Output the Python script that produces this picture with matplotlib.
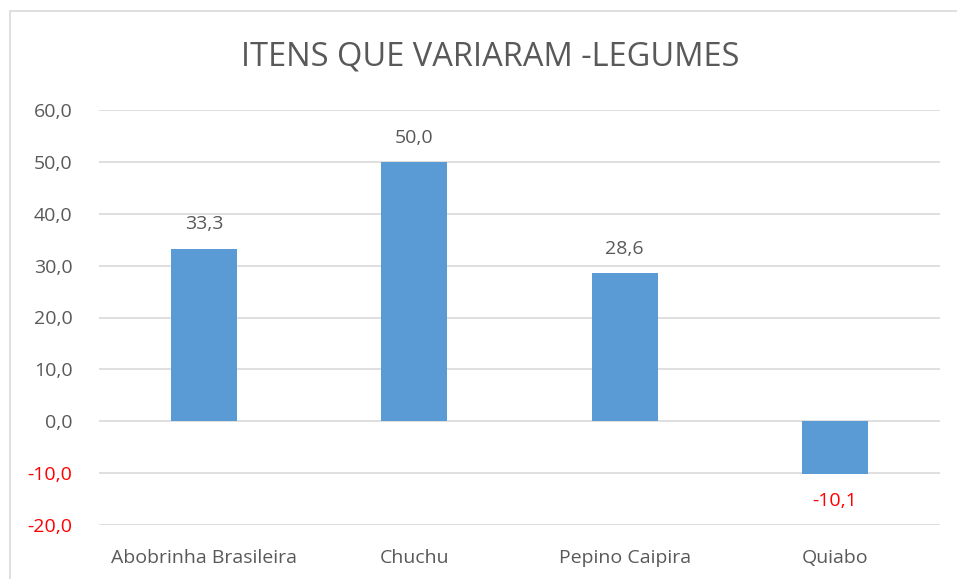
import matplotlib.pyplot as plt
from matplotlib.patches import Rectangle

categorias = ["Abobrinha Brasileira", "Chuchu", "Pepino Caipira", "Quiabo"]
variacao = [33.3, 50.0, 28.6, -10.1]
ticks_y = [-20, -10, 0, 10, 20, 30, 40, 50, 60]

plt.rcParams['font.family'] = ['Open Sans', 'DejaVu Sans']
cinza = '#595959'

fig = plt.figure(figsize=(9.57, 5.79), dpi=100)
fig.patches.append(Rectangle((10 / 957, -0.1), 1.2, (579 - 11) / 579 + 0.1,
                             transform=fig.transFigure, fill=False,
                             edgecolor='#d9d9d9', linewidth=1.2))

ax = fig.add_axes([99 / 957, 1 - 525 / 579, (940 - 99) / 957, (525 - 110) / 579])
x = range(len(categorias))
ax.bar(x, variacao, width=0.315, color='#5b9bd5', zorder=3)

ax.set_ylim(-20, 60)
ax.set_xlim(-0.5, len(categorias) - 0.5)
ax.set_yticks(ticks_y)
ax.set_yticklabels([f"{v:.1f}".replace('.', ',') for v in ticks_y])
for lbl, v in zip(ax.get_yticklabels(), ticks_y):
    lbl.set_color('red' if v < 0 else cinza)
ax.set_xticks(list(x))
ax.set_xticklabels(categorias, color=cinza)
ax.tick_params(axis='both', length=0, labelsize=14)
ax.tick_params(axis='y', pad=19)
ax.tick_params(axis='x', pad=17)
ax.grid(axis='y', color='#d9d9d9', linewidth=1.2, zorder=0)
for s in ax.spines.values():
    s.set_visible(False)

for i, v in zip(x, variacao):
    txt = f"{v:.1f}".replace('.', ',')
    if v >= 0:
        ax.annotate(txt, (i, v), xytext=(0, 11), textcoords='offset points',
                    ha='center', va='bottom', fontsize=14, color=cinza)
    else:
        ax.annotate(txt, (i, v), xytext=(0, -13), textcoords='offset points',
                    ha='center', va='top', fontsize=14, color='red')

fig.text(490 / 957, 1 - 57 / 579, "ITENS QUE VARIARAM -LEGUMES", ha='center',
         va='center', fontsize=23.5, color=cinza)

fig.savefig("out.png", dpi=100)
